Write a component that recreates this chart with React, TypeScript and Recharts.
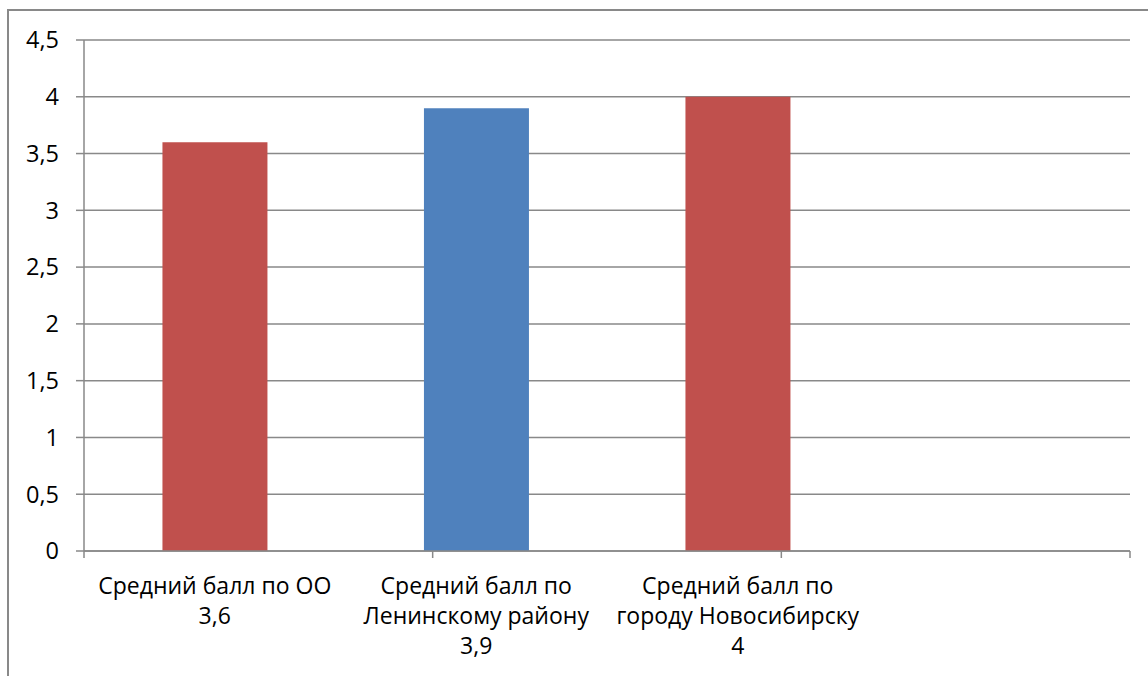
import React from "react";
import { BarChart, Bar, XAxis, YAxis, CartesianGrid, Cell } from "recharts";

const categories = [
  ["Средний балл по ОО", "3,6"],
  ["Средний балл по", "Ленинскому району", "3,9"],
  ["Средний балл по", "городу Новосибирску", "4"],
  [""],
];
const values: (number | null)[] = [3.6, 3.9, 4, null];
const barColors = ["#C0504D", "#4F81BD", "#C0504D", "#C0504D"];
const yTicks = [0, 0.5, 1, 1.5, 2, 2.5, 3, 3.5, 4, 4.5];
const boundaryTicks = [0, 1, 2, 3, 4];

const data = categories.map((lines, i) => ({ name: String(i), value: values[i] }));

const FONT = "'Open Sans', sans-serif";
const GRAY = "#898989";

const CatTick = (props: any) => {
  const { x, y, payload } = props;
  const lines = categories[Number(payload.value)] || [];
  return (
    <text x={x} y={y} textAnchor="middle" fontFamily={FONT} fontSize={23} fill="#000">
      {lines.map((l, i) => (
        <tspan key={i} x={x} dy={i === 0 ? 42 : 30}>
          {l}
        </tspan>
      ))}
    </text>
  );
};

const GridTick = (props: any) => {
  const { x, y } = props;
  return <line x1={x} x2={x} y1={y} y2={y + 7} stroke={GRAY} strokeWidth={1.5} />;
};

export default function App() {
  return (
    <div
      style={{
        position: "fixed",
        left: 0,
        top: 0,
        width: 1148,
        height: 676,
        overflow: "hidden",
        background: "#fff",
      }}
    >
      <div
        style={{
          position: "absolute",
          left: 7,
          top: 9,
          width: 1300,
          height: 800,
          borderLeft: `2px solid ${GRAY}`,
          borderTop: `2px solid ${GRAY}`,
        }}
      />
      <div style={{ position: "absolute", left: 0, top: 0 }}>
        <BarChart
          width={1148}
          height={676}
          data={data}
          margin={{ top: 40, right: 18, left: 0, bottom: 0 }}
          barCategoryGap="30%"
        >
          <CartesianGrid vertical={false} stroke={GRAY} strokeWidth={1.5} />
          <XAxis
            xAxisId="bcat"
            dataKey="name"
            height={124}
            axisLine={false}
            tickLine={false}
            tickSize={0}
            tickMargin={0}
            interval={0}
            tick={<CatTick />}
          />
          <XAxis
            xAxisId="agrid"
            type="number"
            domain={[0, 4]}
            ticks={boundaryTicks}
            interval={0}
            allowDataOverflow
            height={1}
            tick={<GridTick />}
            tickSize={0}
            tickMargin={0}
            tickLine={false}
            axisLine={{ stroke: GRAY, strokeWidth: 1.5 }}
          />
          <YAxis
            width={84}
            domain={[0, 4.5]}
            ticks={yTicks}
            interval={0}
            tickSize={8}
            tickMargin={17}
            tickFormatter={(v: number) => String(v).replace(".", ",")}
            tick={{ fontFamily: FONT, fontSize: 23.5, fill: "#000" }}
            tickLine={{ stroke: GRAY, strokeWidth: 1.5 }}
            axisLine={{ stroke: GRAY, strokeWidth: 1.5 }}
          />
          <Bar dataKey="value" xAxisId="bcat" isAnimationActive={false}>
            {data.map((d, i) => (
              <Cell key={i} fill={barColors[i]} />
            ))}
          </Bar>
        </BarChart>
      </div>
    </div>
  );
}
